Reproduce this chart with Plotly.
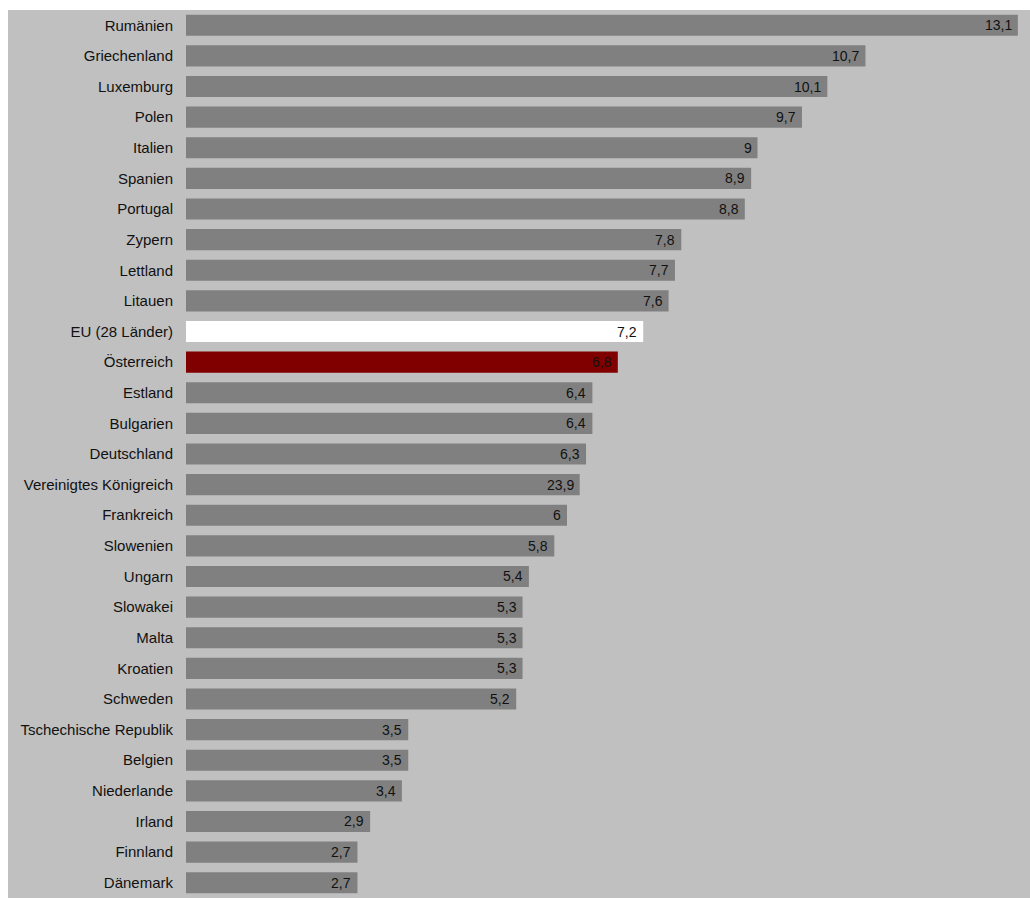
import plotly.graph_objects as go

# Countries ordered top to bottom
countries = [
    "Rumänien", "Griechenland", "Luxemburg", "Polen", "Italien", "Spanien",
    "Portugal", "Zypern", "Lettland", "Litauen", "EU (28 Länder)", "Österreich",
    "Estland", "Bulgarien", "Deutschland", "Vereinigtes Königreich", "Frankreich",
    "Slowenien", "Ungarn", "Slowakei", "Malta", "Kroatien", "Schweden",
    "Tschechische Republik", "Belgien", "Niederlande", "Irland", "Finnland", "Dänemark",
]
values = [
    13.1, 10.7, 10.1, 9.7, 9.0, 8.9,
    8.8, 7.8, 7.7, 7.6, 7.2, 6.8,
    6.4, 6.4, 6.3, 6.2, 6.0,
    5.8, 5.4, 5.3, 5.3, 5.3, 5.2,
    3.5, 3.5, 3.4, 2.9, 2.7, 2.7,
]
value_labels = [
    "13,1", "10,7", "10,1", "9,7", "9", "8,9",
    "8,8", "7,8", "7,7", "7,6", "7,2", "6,8",
    "6,4", "6,4", "6,3", "23,9", "6",
    "5,8", "5,4", "5,3", "5,3", "5,3", "5,2",
    "3,5", "3,5", "3,4", "2,9", "2,7", "2,7",
]

BAR_GREY = "#808080"
BG_GREY = "#C0C0C0"
highlight = {"EU (28 Länder)": "#FFFFFF", "Österreich": "#800000"}
colors = [highlight.get(c, BAR_GREY) for c in countries]

FONT = "Liberation Sans, Arial, sans-serif"
TEXT = "#111111"

fig = go.Figure(
    go.Bar(
        x=values,
        y=countries,
        orientation="h",
        marker=dict(color=colors, line=dict(width=0)),
        width=0.69,
        hoverinfo="skip",
    )
)

# value labels at the inner end of each bar
for c, v, t in zip(countries, values, value_labels):
    fig.add_annotation(
        x=v, y=c, text=t, showarrow=False,
        xanchor="right", yanchor="middle", xshift=-4,
        font=dict(family=FONT, size=14, color=TEXT),
    )

L, R, T, B = 186, 0, 10, 0
W, H = 1030, 898

# grey panel behind both the category labels and the bars
fig.add_shape(
    type="rect", xref="paper", yref="paper", layer="below",
    x0=-(L - 8) / (W - L - R), x1=1, y0=0, y1=1,
    fillcolor=BG_GREY, line=dict(width=0),
)

fig.update_layout(
    width=W, height=H,
    margin=dict(l=L, r=R, t=T, b=B, pad=0),
    paper_bgcolor="#FFFFFF",
    plot_bgcolor=BG_GREY,
    showlegend=False,
    font=dict(family=FONT, size=15, color=TEXT),
    xaxis=dict(
        range=[0, (W - L - R) / 63.5],
        visible=False, fixedrange=True,
    ),
    yaxis=dict(
        autorange=False, range=[len(countries) - 0.5, -0.5],
        showgrid=False, zeroline=False, showline=False,
        ticks="outside", ticklen=9, tickcolor="rgba(0,0,0,0)",
        tickfont=dict(family=FONT, size=15, color=TEXT),
        fixedrange=True,
    ),
)

fig.write_html("out.html")
